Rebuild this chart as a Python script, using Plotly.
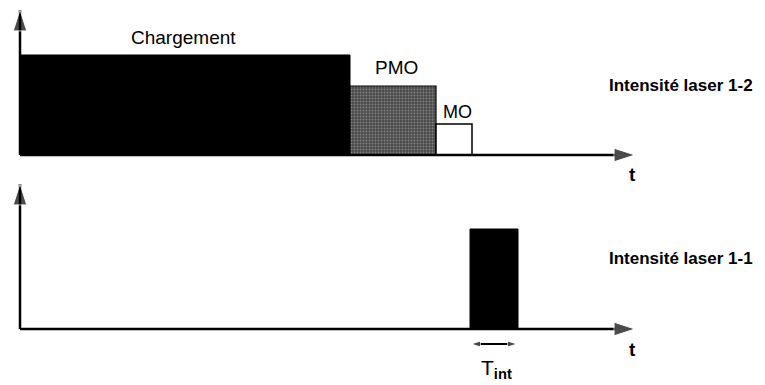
import plotly.graph_objects as go

# top trace: laser 1-2 intensity per phase
phases = ["Chargement", "PMO", "MO"]
phase_start = [0, 33, 41.6]
phase_end = [33, 41.6, 45.2]
intensity_12 = [1.0, 0.69, 0.31]

# bottom trace: laser 1-1 probe pulse
pulse_start = 45.0
pulse_end = 49.8
intensity_11 = 1.0

t_max = 61.5
axis_top = 1.45

FONT = "Arial, Liberation Sans, Helvetica, sans-serif"
fig = go.Figure()


def rect(x0, x1, h, row, **kw):
    xa, ya = ("x", "y") if row == 1 else ("x2", "y2")
    fig.add_trace(go.Scatter(x=[x0, x0, x1, x1, x0], y=[0, h, h, 0, 0], mode="lines",
                             fill="toself", xaxis=xa, yaxis=ya, hoverinfo="skip", **kw))


def arrow(xs, ys, xa, ya, width, head):
    fig.add_trace(go.Scatter(x=xs, y=ys, xaxis=xa, yaxis=ya, mode="lines+markers",
                             line=dict(color="black", width=width),
                             marker=dict(symbol="arrow", size=[0, head], angleref="previous", color="black"),
                             hoverinfo="skip"))


fills = [
    dict(fillcolor="black", line=dict(color="black", width=1)),
    dict(fillcolor="#5a5a5a", line=dict(color="black", width=1.2),
         fillpattern=dict(shape=".", bgcolor="#4a4a4a", fgcolor="#b8b8b8", size=3, solidity=0.3)),
    dict(fillcolor="white", line=dict(color="black", width=1.5)),
]
for s, e, h, st in zip(phase_start, phase_end, intensity_12, fills):
    rect(s, e, h, 1, **st)
rect(pulse_start, pulse_end, intensity_11, 2, fillcolor="black", line=dict(color="black", width=1))

# axes with arrow heads
for xa, ya in (("x", "y"), ("x2", "y2")):
    arrow([0, 0], [0, axis_top], xa, ya, 2.5, 22)
    arrow([0, t_max], [0, 0], xa, ya, 2.5, 22)

# T_int double arrow under the pulse
mid = (pulse_start + pulse_end) / 2
arrow([mid, pulse_end - 0.1], [-0.15, -0.15], "x2", "y2", 2, 10)
arrow([mid, pulse_start + 0.1], [-0.15, -0.15], "x2", "y2", 2, 10)

ann = []
label_y = [1.17, 0.87, 0.43]
label_x = [16.3, 37.65, 43.75]
label_size = [19, 19, 18]
for name, x, y, sz in zip(phases, label_x, label_y, label_size):
    ann.append(dict(x=x, y=y, xref="x", yref="y", text=name, showarrow=False,
                    font=dict(size=sz, color="black", family=FONT)))
ann += [
    dict(x=73.5, y=0.69, xref="x", yref="y", text="<b>Intensité laser 1-2</b>", showarrow=False,
         xanchor="right", font=dict(size=17, color="black", family=FONT)),
    dict(x=73.5, y=0.71, xref="x2", yref="y2", text="<b>Intensité laser 1-1</b>", showarrow=False,
         xanchor="right", font=dict(size=17, color="black", family=FONT)),
    dict(x=61.2, y=-0.20, xref="x", yref="y", text="<b>t</b>", showarrow=False,
         font=dict(size=19, color="black", family=FONT)),
    dict(x=61.2, y=-0.20, xref="x2", yref="y2", text="<b>t</b>", showarrow=False,
         font=dict(size=19, color="black", family=FONT)),
    dict(x=47.6, y=-0.40, xref="x2", yref="y2", text="T<sub><b>int</b></sub>",
         showarrow=False, font=dict(size=21, color="black", family=FONT)),
]

hidden = dict(visible=False, showgrid=False, zeroline=False, fixedrange=True)
fig.update_layout(
    width=765, height=385, margin=dict(l=0, r=0, t=0, b=0),
    paper_bgcolor="white", plot_bgcolor="rgba(0,0,0,0)", showlegend=False,
    xaxis=dict(range=[-1.2, 75.3], domain=[0, 1], **hidden),
    yaxis=dict(range=[-0.5, 1.45], domain=[0.48831, 0.99481], **hidden),
    xaxis2=dict(range=[-1.2, 75.3], domain=[0, 1], anchor="y2", **hidden),
    yaxis2=dict(range=[-0.5, 1.45], domain=[0.036364, 0.542857], anchor="x2", **hidden),
    annotations=ann,
)
fig.update_traces(cliponaxis=False)
fig.write_html("out.html")
